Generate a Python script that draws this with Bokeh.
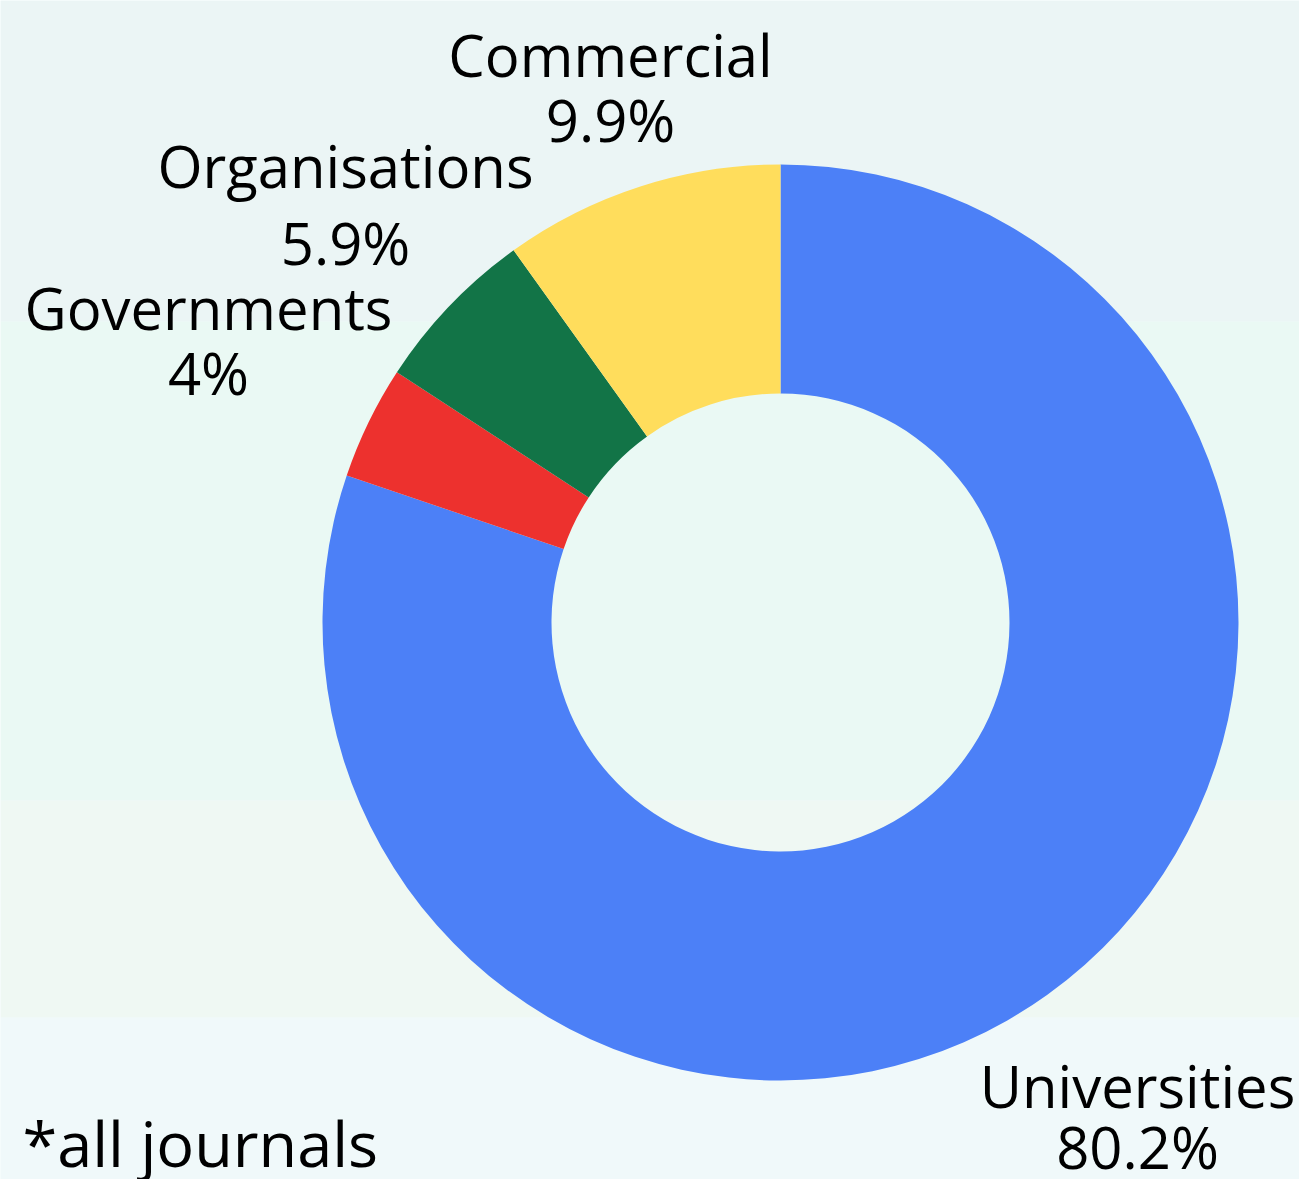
from bokeh.plotting import figure
from bokeh.models import Range1d, ColumnDataSource
from bokeh.core.properties import value
from bokeh.embed import file_html
from bokeh.resources import INLINE
import math

categories = ["Universities", "Governments", "Organisations", "Commercial"]
shares = [80.2, 4.0, 5.9, 9.9]
pct_labels = ["80.2%", "4%", "5.9%", "9.9%"]
colors = ["#4C80F7", "#ED312E", "#127447", "#FFDD5C"]

W, H = 1299, 1179
p = figure(width=W, height=H, output_backend="svg", toolbar_location=None,
           x_range=Range1d(0, W), y_range=Range1d(0, H),
           min_border=0)
p.axis.visible = False
p.grid.visible = False
p.outline_line_color = None
p.background_fill_color = "#F0F9FA"
p.border_fill_color = "#F0F9FA"

# background bands (reference pixel rows)
bands = [(0, 321, "#EBF5F5"), (321, 800, "#EAF9F4"), (800, 1017, "#EFF8F3"), (1017, 1179, "#F0F9FA")]
for t, b, c in bands:
    p.quad(left=0, right=1299, top=1179 - t, bottom=1179 - b, fill_color=c, line_color=None)

cx, cy = 780, 1179 - 622
R_out, R_in = 458, 229

total = sum(shares)
starts, ends = [], []
a = math.pi / 2
for s in shares:
    starts.append(a)
    a -= s / total * 2 * math.pi
    ends.append(a)

src = ColumnDataSource(dict(start=starts, end=ends, color=colors, cat=categories))
p.annular_wedge(x=cx, y=cy, inner_radius=R_in, outer_radius=R_out,
                start_angle="start", end_angle="end", direction="clock",
                fill_color="color", line_color=None, source=src)

# labels: x center, name baseline, pct baseline (reference pixels)
label_pos = {
    "Commercial": (610, 78, 143),
    "Organisations": (345, 189, 266),
    "Governments": (208, 331, 396),
    "Universities": (1137, 1109, 1170),
}
OFF = 24  # correction for how the baseline is placed
names, pcts = [], []
for c, pl in zip(categories, pct_labels):
    x, yn, yp = label_pos[c]
    names.append((x, 1179 - yn + OFF, c))
    pcts.append((x, 1179 - yp + OFF, pl))

for items in (names, pcts):
    p.text(x=[i[0] for i in items], y=[i[1] for i in items], text=[i[2] for i in items],
           text_align="center", text_baseline="alphabetic",
           text_font=value("Open Sans"), text_font_size="58px", text_color="#000000")

p.text(x=[22], y=[1179 - 1166 + OFF], text=["*all journals"], text_align="left",
       text_baseline="alphabetic", text_font=value("Open Sans"),
       text_font_size="63px", text_color="#000000")

open("out.html", "w").write(file_html(p, INLINE))
